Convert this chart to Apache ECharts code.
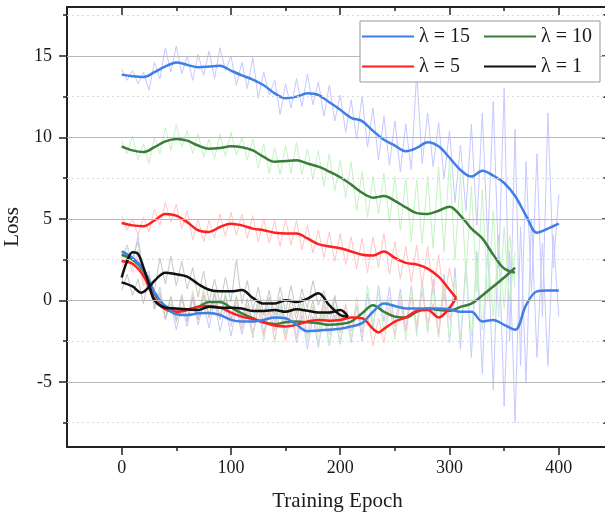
<!DOCTYPE html>
<html>
<head>
<meta charset="utf-8">
<script src="https://cdn.jsdelivr.net/npm/echarts@6/dist/echarts.min.js"></script>
<style>
html,body{margin:0;padding:0;background:#fff;}
#chart{width:605px;height:519px;}
</style>
</head>
<body>
<div id="chart"></div>
<script>
// ---- Data ----
const legendNames = ['λ = 15', 'λ = 10', 'λ = 5', 'λ = 1'];
const xMajorTicks = [0, 100, 200, 300, 400];
const xMinorTicks = [50, 150, 250, 350];
const yMajorTicks = [-5, 0, 5, 10, 15];
const yMinorTicks = [-7.5, -2.5, 2.5, 7.5, 12.5, 17.5];
const rawStep = 5; // raw samples every 5 epochs, starting at epoch 0

// smoothed curves: [epoch, loss]
const blueUpper = [[0,13.85],[10,13.75],[20,13.7],[30,14.0],[40,14.35],[50,14.6],[60,14.45],[70,14.3],[80,14.35],[90,14.4],[100,14.1],[110,13.8],[120,13.55],[130,13.2],[140,12.7],[150,12.4],[160,12.5],[170,12.7],[180,12.6],[190,12.15],[200,11.7],[210,11.2],[220,11.0],[230,10.4],[240,9.85],[250,9.5],[260,9.15],[270,9.35],[280,9.7],[290,9.45],[300,8.75],[310,8.0],[320,7.6],[330,7.95],[340,7.65],[350,7.2],[360,6.4],[370,5.2],[380,4.15],[390,4.4],[400,4.7]];
const blueLower = [[0,3.0],[10,2.6],[20,1.9],[30,0.5],[40,-0.4],[50,-0.85],[60,-0.9],[70,-0.8],[80,-0.78],[90,-0.9],[100,-1.2],[110,-1.3],[120,-1.3],[130,-1.2],[140,-1.05],[150,-1.1],[160,-1.5],[170,-1.9],[180,-1.85],[190,-1.8],[200,-1.75],[210,-1.6],[220,-1.4],[230,-0.7],[240,-0.2],[250,-0.35],[260,-0.5],[270,-0.5],[280,-0.5],[290,-0.5],[300,-0.55],[310,-0.7],[320,-0.7],[330,-1.3],[340,-1.2],[350,-1.5],[360,-1.8],[370,-0.3],[380,0.55],[390,0.6],[400,0.6]];
const greenUpper = [[0,9.45],[10,9.2],[20,9.1],[30,9.4],[40,9.75],[50,9.9],[60,9.8],[70,9.5],[80,9.3],[90,9.35],[100,9.45],[110,9.4],[120,9.2],[130,8.8],[140,8.5],[150,8.55],[160,8.6],[170,8.4],[180,8.2],[190,7.9],[200,7.55],[210,7.1],[220,6.6],[230,6.3],[240,6.4],[250,6.1],[260,5.7],[270,5.35],[280,5.3],[290,5.5],[300,5.75],[310,5.2],[320,4.4],[330,3.8],[340,2.8],[350,1.95],[360,1.7]];
const greenLower = [[0,2.8],[10,2.5],[20,1.8],[30,0.4],[40,-0.35],[50,-0.55],[60,-0.55],[70,-0.4],[80,-0.1],[90,-0.1],[100,-0.45],[110,-0.8],[120,-1.1],[130,-1.35],[140,-1.45],[150,-1.35],[160,-1.3],[170,-1.35],[180,-1.4],[190,-1.5],[200,-1.45],[210,-1.3],[220,-0.8],[230,-0.3],[240,-0.7],[250,-1.0],[260,-1.05],[270,-0.7],[280,-0.5],[290,-0.6],[300,-0.65],[310,-0.4],[320,-0.2],[330,0.3],[340,0.85],[350,1.4],[360,2.0]];
const redUpper = [[0,4.75],[10,4.6],[20,4.55],[30,4.9],[40,5.3],[50,5.2],[60,4.8],[70,4.3],[80,4.2],[90,4.5],[100,4.7],[110,4.6],[120,4.4],[130,4.3],[140,4.15],[150,4.1],[160,4.1],[170,3.8],[180,3.45],[190,3.3],[200,3.2],[210,3.0],[220,2.8],[230,2.75],[240,3.0],[250,2.6],[260,2.3],[270,2.2],[280,1.95],[290,1.45],[300,0.65],[306,0.15]];
const redLower = [[0,2.4],[10,2.25],[20,1.5],[30,0.1],[40,-0.55],[50,-0.7],[60,-0.6],[70,-0.4],[80,-0.35],[90,-0.45],[100,-0.75],[110,-1.0],[120,-1.15],[130,-1.35],[140,-1.55],[150,-1.6],[160,-1.5],[170,-1.3],[180,-1.2],[190,-1.25],[200,-1.2],[210,-1.05],[220,-1.1],[230,-1.75],[235,-1.97],[240,-1.75],[250,-1.3],[260,-1.05],[270,-0.65],[280,-0.6],[290,-1.05],[300,-0.45],[306,0.15]];
const blackA = [[0,1.4],[5,2.4],[10,2.95],[15,2.85],[20,2.0],[25,1.0],[30,0.0],[40,-0.45],[50,-0.5],[60,-0.55],[70,-0.6],[80,-0.4],[90,-0.45],[100,-0.45],[110,-0.5],[120,-0.65],[130,-0.65],[140,-0.6],[150,-0.7],[160,-0.55],[170,-0.64],[180,-0.75],[190,-0.75],[200,-0.6],[207,-1.0]];
const blackB = [[0,1.1],[10,0.85],[18,0.47],[25,0.8],[30,1.2],[40,1.7],[50,1.6],[60,1.45],[70,1.0],[80,0.65],[90,0.55],[100,0.55],[110,0.63],[120,0.15],[130,-0.2],[140,-0.2],[150,0.0],[160,-0.1],[170,0.1],[180,0.43],[190,-0.3],[200,-0.9],[207,-1.0]];

// raw (noisy) curves, one value every rawStep epochs
const blueUpperRaw = [14.2,13.5,14.1,13.3,14.0,12.9,14.6,13.6,15.5,14.0,
15.6,13.9,15.0,13.5,15.1,13.8,15.3,13.6,15.5,14.1,
15.0,13.2,14.6,13.0,14.9,12.4,14.0,12.6,13.5,11.4,
13.3,11.8,13.6,11.9,13.9,12.0,13.4,11.3,13.2,11.0,
12.6,10.3,12.3,9.9,12.5,9.4,11.8,8.6,11.3,8.3,
11.0,7.9,10.8,8.0,14.0,8.4,11.5,8.2,10.9,7.5,
10.4,6.0,9.5,5.5,10.8,4.6,11.5,3.5,12.2,2.0,
13.0,-2.5,10.5,-4.0,8.5,0.5,9.0,-1.0,11.5,2.0,
6.5];
const blueLowerRaw = [2.6,3.4,2.2,4.0,1.4,1.8,-0.3,0.8,-1.2,-0.2,
-1.8,-0.4,-1.6,0.1,-1.5,-0.2,-1.7,0.0,-1.9,-0.4,
-2.2,-0.5,-2.1,-0.6,-2.3,-0.3,-2.0,-0.4,-1.9,0.2,
-2.1,-0.6,-2.6,-0.9,-3.0,-1.0,-2.9,-0.8,-2.8,-0.9,
-2.7,-0.7,-2.6,-0.3,-2.5,0.4,-1.8,0.9,-1.3,0.8,
-1.6,0.7,-1.8,0.9,-1.9,1.2,-2.0,1.3,-2.2,1.6,
-2.6,2.0,-3.0,2.4,-3.5,3.0,-4.5,3.5,-5.5,4.0,
-6.5,3.0,-7.5,4.5,-5.0,5.0,-3.5,3.5,-4.0,4.0,
-1.0];
const greenUpperRaw = [9.8,9.0,10.1,8.6,9.6,8.4,10.0,9.0,10.6,9.2,
10.8,9.4,10.4,9.0,10.2,8.8,9.9,8.7,10.2,8.8,
10.3,8.9,10.0,8.6,9.9,8.1,9.6,7.8,9.4,7.7,
9.5,7.8,9.7,7.7,9.3,7.4,9.2,7.0,9.0,6.7,
8.6,6.3,8.5,5.5,7.9,5.1,7.6,5.3,7.8,4.8,
7.6,4.3,7.5,3.6,7.4,3.5,7.6,3.2,8.2,3.0,
8.6,2.5,7.8,1.5,7.0,0.5,6.8,0.0,5.5,-1.0,
4.5,0.0,3.0];
const greenLowerRaw = [2.4,3.3,2.0,3.1,1.2,1.5,-0.4,0.6,-1.1,0.3,
-1.4,0.4,-1.3,0.6,-1.2,0.8,-0.9,0.7,-1.0,0.5,
-1.3,0.3,-1.7,0.1,-2.2,-0.2,-2.5,-0.4,-2.6,-0.3,
-2.4,-0.4,-2.3,-0.2,-2.5,-0.3,-2.6,-0.5,-2.7,-0.4,
-2.6,-0.3,-2.4,0.2,-2.0,0.9,-1.5,0.5,-2.0,0.2,
-2.4,0.3,-2.5,0.7,-2.2,0.9,-2.0,0.8,-2.3,1.0,
-2.5,1.4,-2.3,1.8,-2.2,2.4,-1.8,3.0,-1.0,3.6,
-0.5,4.0,0.8];
const redUpperRaw = [5.2,4.3,5.0,4.0,5.1,4.2,5.6,4.6,6.0,4.8,
5.9,4.4,5.5,3.7,5.0,3.6,4.9,3.8,5.3,3.9,
5.4,4.0,5.3,3.8,5.2,3.6,5.0,3.5,4.9,3.3,
5.0,3.4,4.9,3.1,4.6,2.9,4.3,2.6,4.2,2.4,
4.1,2.2,3.9,1.9,3.8,1.7,3.9,2.0,4.1,1.6,
3.6,1.3,3.3,1.1,3.4,0.9,3.3,0.5,2.8,0.0,
2.0,0.2];
const redLowerRaw = [2.0,2.8,1.7,2.9,0.9,1.4,-0.6,0.5,-1.2,0.2,
-1.3,0.1,-1.2,0.4,-1.0,0.5,-1.1,0.4,-1.2,0.2,
-1.6,-0.1,-1.8,-0.3,-2.0,-0.5,-2.2,-0.6,-2.4,-0.8,
-2.5,-0.7,-2.3,-0.5,-2.1,-0.4,-2.0,-0.3,-2.1,-0.4,
-2.0,-0.2,-1.9,-0.3,-2.0,-0.9,-2.8,-1.1,-2.6,-0.4,
-2.1,-0.1,-1.9,0.2,-1.5,0.5,-1.4,-0.2,-2.0,0.4,
-1.2,0.2];
const blackARaw = [1.0,2.9,2.6,3.6,1.6,1.5,-0.5,0.4,-1.1,0.2,
-1.2,0.3,-1.3,0.2,-1.2,0.3,-1.0,0.4,-1.1,0.3,
-1.2,0.2,-1.2,0.1,-1.4,0.1,-1.4,0.2,-1.3,0.1,
-1.4,0.1,-1.2,0.2,-1.3,0.0,-1.5,0.0,-1.4,0.1,
-1.2,-0.7];
const blackBRaw = [0.6,1.6,0.3,1.3,-0.2,1.5,0.6,2.6,1.0,2.7,
0.9,2.4,0.7,2.0,0.2,1.8,-0.1,1.3,-0.2,1.4,
-0.1,2.5,-0.2,1.2,-0.6,0.8,-0.9,0.6,-0.9,0.8,
-0.7,0.9,-0.8,0.7,-0.5,1.2,-0.3,0.6,-0.9,0.3,
-1.5,-0.8];

// ---- Styling ----
const FONT = '"Liberation Serif", "Times New Roman", serif';
const AX = '#222';
const TXT = '#1a1a1a';
const colors = { blue: '#3f7fe8', green: '#3a7d3a', red: '#ff1f1f', black: '#111111' };
const rawColors = { blue: '#c6c9ff', green: '#c4f4c4', red: '#ffc6c6', black: '#c6c6c6' };

function withEpochs(arr) { return arr.map((v, i) => [i * rawStep, v]); }

const X_MIN = -50, X_MAX = 445, Y_MIN = -9, Y_MAX = 18;

function xAxisDef(pos, ticks, len, inside, showLine, showLabel) {
  return {
    type: 'value', position: pos, min: X_MIN, max: X_MAX,
    axisLine: { show: showLine, onZero: false, lineStyle: { color: AX, width: 2 } },
    axisTick: { show: true, inside: inside, length: len, customValues: ticks, lineStyle: { color: AX, width: 1.5 } },
    axisLabel: { show: showLabel, customValues: ticks, fontFamily: FONT, fontSize: 18, color: TXT, margin: 12 },
    splitLine: { show: false }
  };
}
function yAxisDef(pos, ticks, len, inside, showLine, showLabel) {
  return {
    type: 'value', position: pos, min: Y_MIN, max: Y_MAX,
    axisLine: { show: showLine, onZero: false, lineStyle: { color: AX, width: 2 } },
    axisTick: { show: true, inside: inside, length: len, customValues: ticks, lineStyle: { color: AX, width: 1.5 } },
    axisLabel: { show: showLabel, customValues: ticks, fontFamily: FONT, fontSize: 18, color: TXT, margin: 15 },
    splitLine: { show: false }
  };
}

const xAxes = [
  Object.assign(xAxisDef('bottom', xMajorTicks, 8, false, true, true), {
    name: 'Training Epoch', nameLocation: 'middle', nameGap: 44,
    nameTextStyle: { fontFamily: FONT, fontSize: 21, color: TXT }
  }),
  xAxisDef('bottom', xMinorTicks, 4, false, false, false),
  xAxisDef('top', xMajorTicks, 8, true, true, false),
  xAxisDef('top', xMinorTicks, 4, true, false, false)
];
const yAxes = [
  Object.assign(yAxisDef('left', yMajorTicks, 8, false, true, true), {
    name: 'Loss', nameLocation: 'middle', nameGap: 38,
    nameTextStyle: { fontFamily: FONT, fontSize: 21, color: TXT }
  }),
  yAxisDef('left', yMinorTicks, 4, false, false, false),
  yAxisDef('right', yMajorTicks, 6, true, true, false),
  yAxisDef('right', yMinorTicks, 5, true, false, false)
];

function rawSeries(arr, color) {
  return { type: 'line', data: withEpochs(arr), showSymbol: false, symbol: 'none', z: 2,
    lineStyle: { color: color, width: 1 }, silent: true };
}
function smoothSeries(name, arr, color) {
  return { name: name, type: 'line', data: arr, showSymbol: false, symbol: 'none', z: 3,
    smooth: 0.35, color: color, itemStyle: { color: color }, lineStyle: { color: color, width: 2.5 } };
}

const series = [
  { type: 'line', data: [], z: 1, silent: true,
    markLine: { silent: true, symbol: 'none', label: { show: false },
      lineStyle: { color: '#b8b8b8', width: 1, type: 'solid' },
      data: yMajorTicks.map(v => ({ yAxis: v })) } },
  { type: 'line', data: [], z: 1, silent: true,
    markLine: { silent: true, symbol: 'none', label: { show: false },
      lineStyle: { color: '#d8d8d8', width: 1, type: [2, 3] },
      data: yMinorTicks.map(v => ({ yAxis: v })) } },
  rawSeries(blueUpperRaw, rawColors.blue),
  rawSeries(blueLowerRaw, rawColors.blue),
  rawSeries(greenUpperRaw, rawColors.green),
  rawSeries(greenLowerRaw, rawColors.green),
  rawSeries(redUpperRaw, rawColors.red),
  rawSeries(redLowerRaw, rawColors.red),
  rawSeries(blackARaw, rawColors.black),
  rawSeries(blackBRaw, rawColors.black),
  smoothSeries(legendNames[1], greenUpper, colors.green),
  smoothSeries(legendNames[1], greenLower, colors.green),
  smoothSeries(legendNames[2], redUpper, colors.red),
  smoothSeries(legendNames[2], redLower, colors.red),
  smoothSeries(legendNames[0], blueUpper, colors.blue),
  smoothSeries(legendNames[0], blueLower, colors.blue),
  smoothSeries(legendNames[3], blackA, colors.black),
  smoothSeries(legendNames[3], blackB, colors.black)
];

const chart = echarts.init(document.getElementById('chart'), null, { renderer: 'canvas' });
chart.setOption({
  animation: false,
  backgroundColor: '#fff',
  grid: { left: 67, top: 7, width: 541, bottom: 72, containLabel: false, outerBoundsMode: 'none' },
  xAxis: xAxes,
  yAxis: yAxes,
  legend: {
    data: [legendNames[0], legendNames[1], legendNames[2], legendNames[3]],
    orient: 'horizontal', left: 360, top: 21, width: 242,
    padding: [4, 1, 4, 2], itemGap: 7, itemWidth: 52, itemHeight: 2,
    icon: 'rect',
    backgroundColor: '#fff', borderColor: '#999', borderWidth: 1, borderRadius: 0,
    z: 10, selectedMode: false,
    textStyle: { fontFamily: FONT, fontSize: 20, color: TXT, width: 58, lineHeight: 23 }
  },
  series: series
});
</script>
</body>
</html>
